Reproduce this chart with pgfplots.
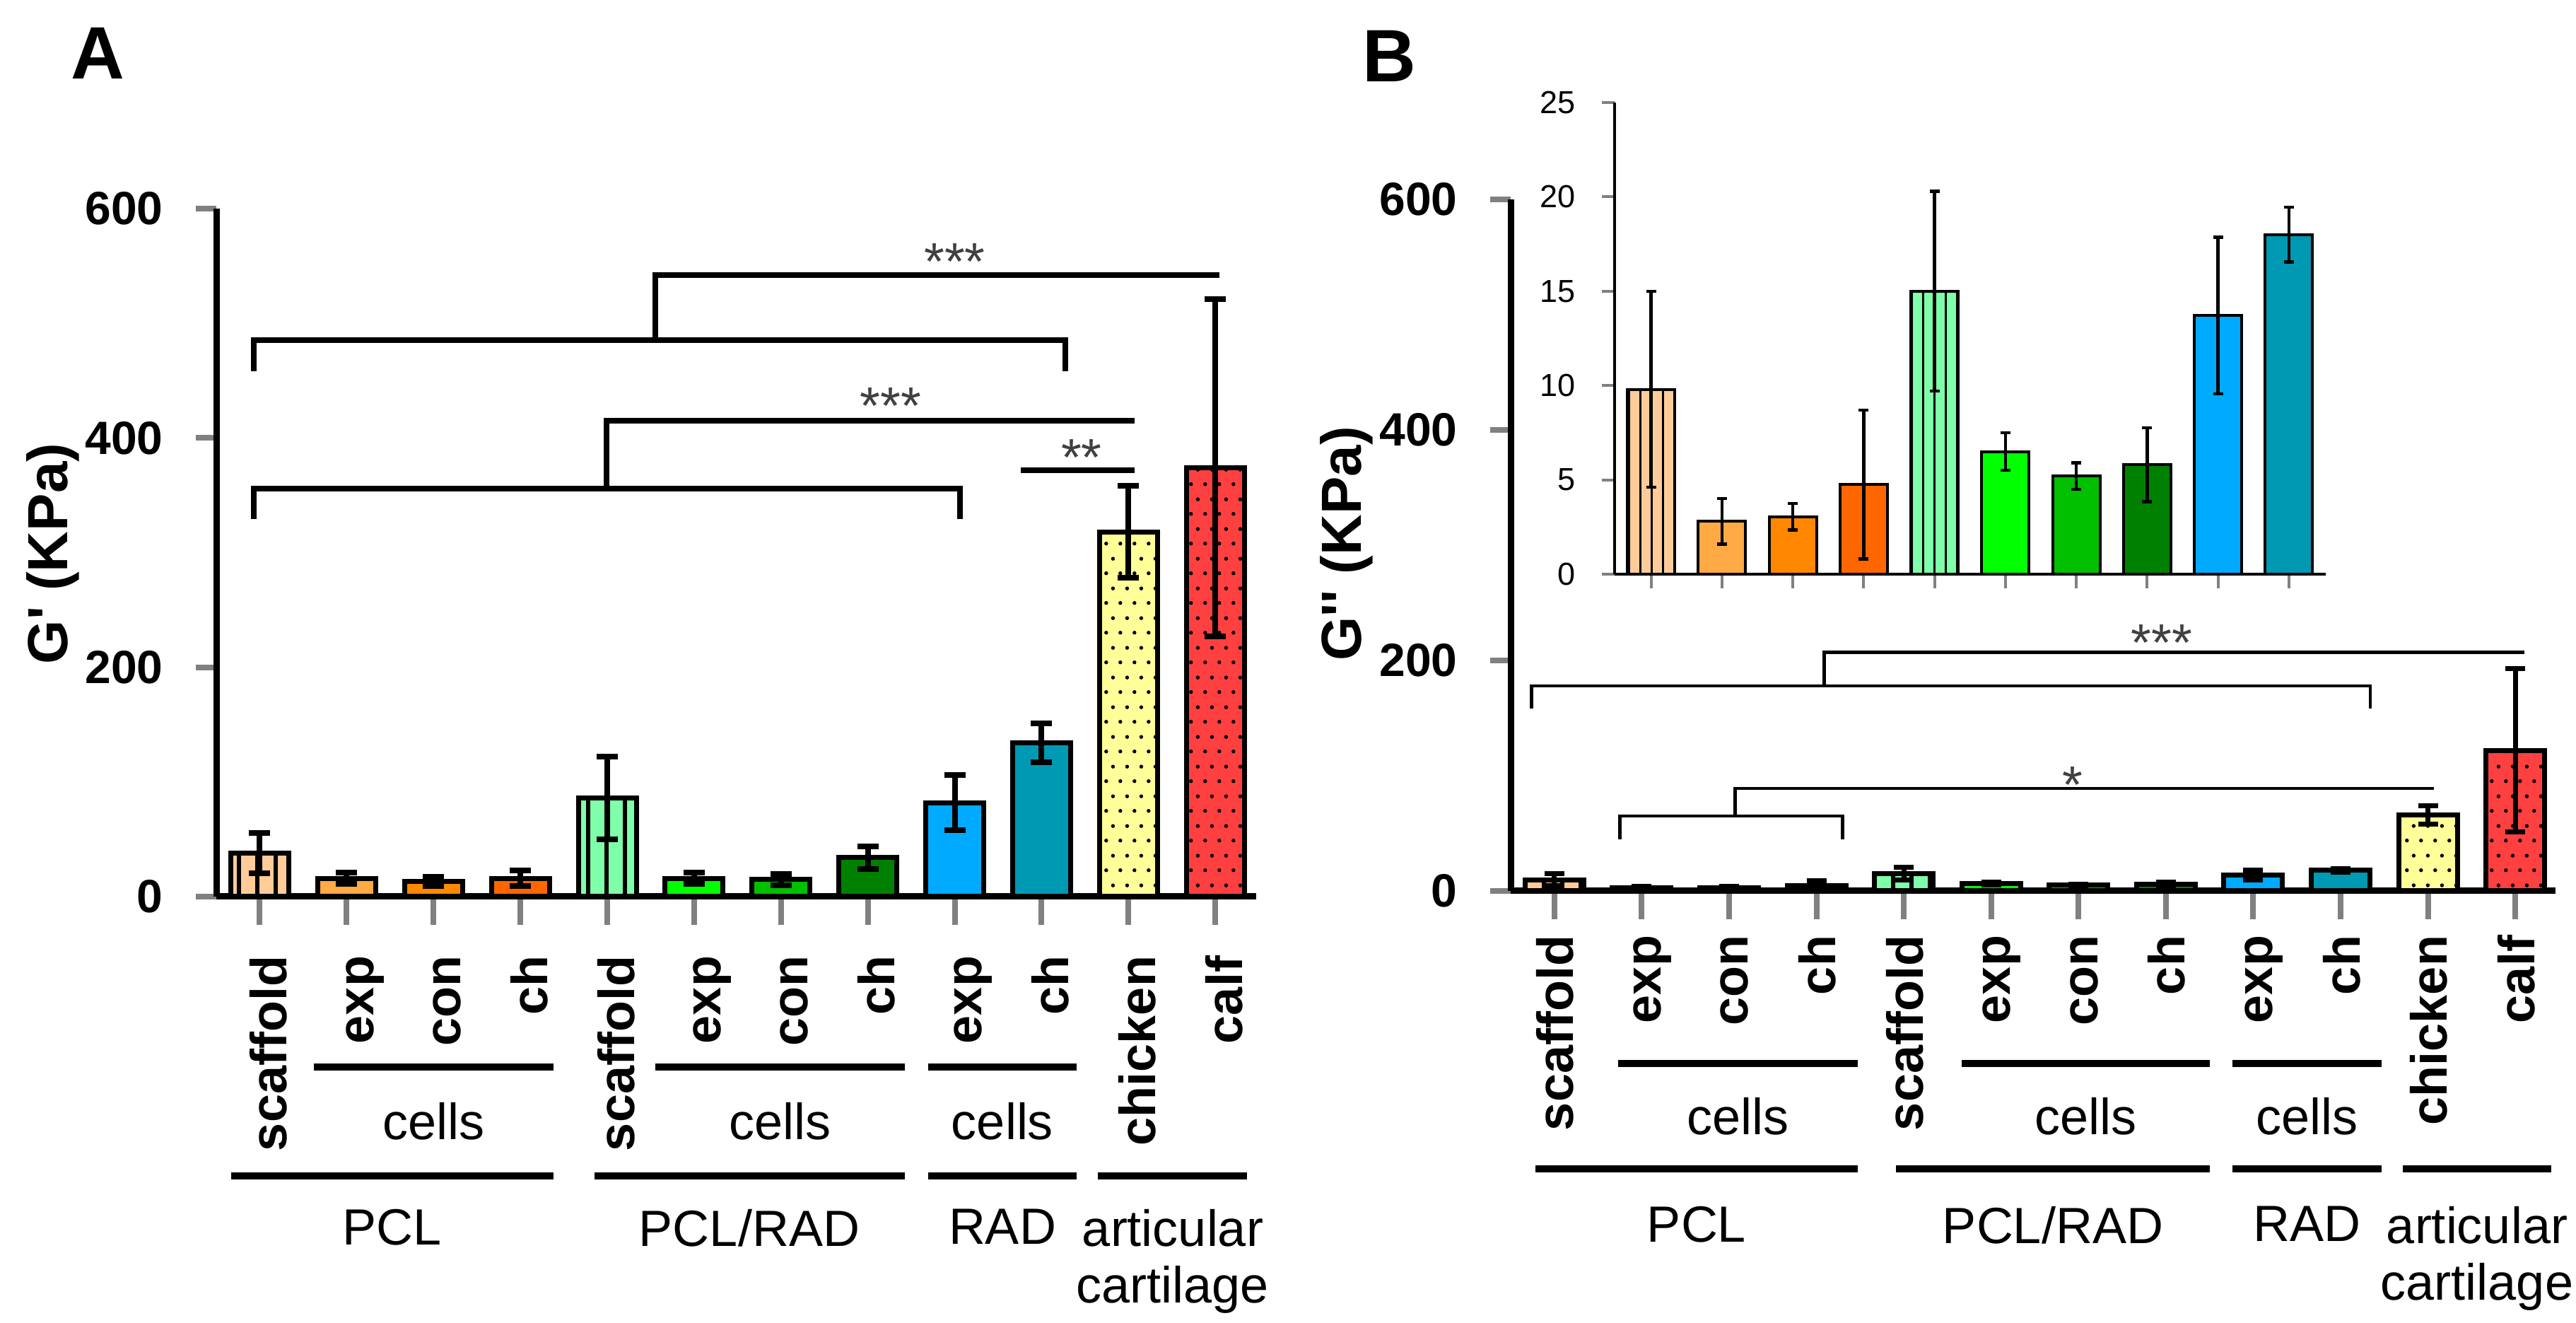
\documentclass[border=0pt]{standalone}
\usepackage{pgfplots}
\pgfplotsset{compat=1.18}
\usepackage{fontspec}
\setmainfont{Liberation Sans}
\newfontfamily\lsans{Liberation Sans}
\usetikzlibrary{patterns,patterns.meta}

\definecolor{cSa}{HTML}{FFCC99}
\definecolor{cEa}{HTML}{FFAA44}
\definecolor{cCa}{HTML}{FF8800}
\definecolor{cHa}{HTML}{FF6600}
\definecolor{cSb}{HTML}{80FFAA}
\definecolor{cEb}{HTML}{00FF00}
\definecolor{cCb}{HTML}{00C000}
\definecolor{cHb}{HTML}{008000}
\definecolor{cEc}{HTML}{00AAFF}
\definecolor{cHc}{HTML}{0099B3}
\definecolor{cCk}{HTML}{FFFF99}
\definecolor{cCf}{HTML}{FF4040}

\pgfdeclarepatternformonly{stagdots}{\pgfpoint{0pt}{0pt}}{\pgfpoint{2pt}{4.2pt}}{\pgfpoint{2pt}{4.2pt}}{%
  \pgfpathcircle{\pgfpoint{0.5pt}{1.05pt}}{0.28pt}%
  \pgfpathcircle{\pgfpoint{1.5pt}{3.15pt}}{0.28pt}%
  \pgfusepath{fill}}

\pgfplotsset{
  mainax/.style={scale only axis, anchor=south west, axis lines=left,
    axis line style={-, line width=0.9pt}, tick align=outside, major tick length=4pt,
    ytick style={line width=0.8pt, /pgfplots/major tick length=2.9pt},
    xtick style={line width=0.8pt},
    ymin=0, ymax=600, ytick={0,200,400,600}, xmin=-0.5,
    xtick={0,...,11},
    xticklabels={scaffold,exp,con,ch,scaffold,exp,con,ch,exp,ch,chicken,calf},
    yticklabel style={font=\bfseries\fontsize{6.6}{7}\selectfont},
    /pgf/number format/assume math mode=true, clip=false, ybar},
  barA/.style={ybar, bar width=8.2pt, bar shift=0pt, draw=black, line width=0.7pt,
    error bars/y dir=both, error bars/y explicit,
    error bars/error bar style={line width=0.8pt, black},
    error bars/error mark options={rotate=90, line width=0.8pt, mark size=1.5pt, black}},
  barB/.style={ybar, bar width=8.3pt, bar shift=0pt, draw=black, line width=0.7pt,
    error bars/y dir=both, error bars/y explicit,
    error bars/error bar style={line width=0.7pt, black},
    error bars/error mark options={rotate=90, line width=0.7pt, mark size=1.4pt, black}},
  barI/.style={ybar, bar width=6.7pt, bar shift=0pt, draw=black, line width=0.4pt,
    error bars/y dir=both, error bars/y explicit,
    error bars/error bar style={line width=0.45pt, black},
    error bars/error mark options={rotate=90, line width=0.45pt, mark size=0.7pt, black}},
  linesA/.style={postaction={pattern={Lines[angle=90,distance=2.6pt,line width=0.6pt]}, pattern color=black}},
  linesI/.style={postaction={pattern={Lines[angle=90,distance=1.6pt,line width=0.3pt]}, pattern color=black}},
  dotsA/.style={postaction={pattern=stagdots, pattern color=black}},
}

\begin{document}
\begin{tikzpicture}
\useasboundingbox (0,0) rectangle (364.4pt,187.1pt);

% ---------------- Panel A ----------------
\begin{axis}[mainax, at={(30.6pt,60.3pt)}, width=147.1pt, height=97.3pt, xmax=11.47,
  xticklabel style={xshift=3.8pt, rotate=90, anchor=base east, inner sep=0pt, font=\bfseries\fontsize{7.2}{8}\selectfont},
  xticklabel shift=4.2pt]
\addplot[barA, fill=cSa, linesA] coordinates {(0,38) +- (0,17.5)};
\addplot[barA, fill=cEa] coordinates {(1,16) +- (0,5)};
\addplot[barA, fill=cCa] coordinates {(2,13) +- (0,4)};
\addplot[barA, fill=cHa] coordinates {(3,16) +- (0,7)};
\addplot[barA, fill=cSb, linesA] coordinates {(4,86) +- (0,36)};
\addplot[barA, fill=cEb] coordinates {(5,16) +- (0,5)};
\addplot[barA, fill=cCb] coordinates {(6,15) +- (0,5)};
\addplot[barA, fill=cHb] coordinates {(7,34) +- (0,10)};
\addplot[barA, fill=cEc] coordinates {(8,82) +- (0,24)};
\addplot[barA, fill=cHc] coordinates {(9,134) +- (0,17)};
\addplot[barA, fill=cCk, dotsA] coordinates {(10,318) +- (0,40)};
\addplot[barA, fill=cCf, dotsA] coordinates {(11,374) +- (0,147)};
\draw[line width=0.8pt] (axis cs:4.55,485) -- (axis cs:4.55,542) -- (axis cs:11.05,542);
\draw[line width=0.8pt] (axis cs:-0.07,458) -- (axis cs:-0.07,485) -- (axis cs:9.27,485) -- (axis cs:9.27,458);
\draw[line width=0.8pt] (axis cs:3.99,356) -- (axis cs:3.99,415) -- (axis cs:10.07,415);
\draw[line width=0.8pt] (axis cs:-0.07,329) -- (axis cs:-0.07,356) -- (axis cs:8.06,356) -- (axis cs:8.06,329);
\draw[line width=0.8pt] (axis cs:8.76,372) -- (axis cs:10.07,372);
\node[font=\fontsize{7.4}{8}\selectfont, text=black!75] at (axis cs:8.0,554) {***};
\node[font=\fontsize{7.4}{8}\selectfont, text=black!75] at (axis cs:7.26,428) {***};
\node[font=\fontsize{7.4}{8}\selectfont, text=black!75] at (axis cs:9.46,383) {**};
\end{axis}

% ---------------- Panel B ----------------
\begin{axis}[mainax, at={(213.7pt,61.1pt)}, width=147.8pt, height=97.8pt, xmax=11.46,
  xticklabel style={xshift=2.7pt, rotate=90, anchor=base east, inner sep=0pt, font=\bfseries\fontsize{7.2}{8}\selectfont},
  xticklabel shift=2.1pt]
\addplot[barB, fill=cSa, linesA] coordinates {(0,9.8) +- (0,5.2)};
\addplot[barB, fill=cEa] coordinates {(1,2.8) +- (0,1.2)};
\addplot[barB, fill=cCa] coordinates {(2,3.05) +- (0,0.7)};
\addplot[barB, fill=cHa] coordinates {(3,4.75) +- (0,3.95)};
\addplot[barB, fill=cSb, linesA] coordinates {(4,15.0) +- (0,5.3)};
\addplot[barB, fill=cEb] coordinates {(5,6.5) +- (0,1.0)};
\addplot[barB, fill=cCb] coordinates {(6,5.2) +- (0,0.7)};
\addplot[barB, fill=cHb] coordinates {(7,5.8) +- (0,1.95)};
\addplot[barB, fill=cEc] coordinates {(8,13.7) +- (0,4.15)};
\addplot[barB, fill=cHc] coordinates {(9,18.0) +- (0,1.45)};
\addplot[barB, fill=cCk, dotsA] coordinates {(10,66) +- (0,8)};
\addplot[barB, fill=cCf, dotsA] coordinates {(11,122) +- (0,71)};
\draw[line width=0.45pt] (axis cs:3.09,178) -- (axis cs:3.09,207) -- (axis cs:11.1,207);
\draw[line width=0.45pt] (axis cs:-0.26,158) -- (axis cs:-0.26,178) -- (axis cs:9.34,178) -- (axis cs:9.34,158);
\draw[line width=0.45pt] (axis cs:2.07,65) -- (axis cs:2.07,89) -- (axis cs:10.07,89);
\draw[line width=0.45pt] (axis cs:0.75,45) -- (axis cs:0.75,65) -- (axis cs:3.3,65) -- (axis cs:3.3,45);
\node[font=\fontsize{7.4}{8}\selectfont, text=black!75] at (axis cs:6.95,215) {***};
\node[font=\fontsize{7.4}{8}\selectfont, text=black!75] at (axis cs:5.93,92) {*};
\end{axis}

% ---------------- Inset ----------------
\begin{axis}[scale only axis, anchor=south west, at={(228.35pt,105.9pt)}, width=100.65pt, height=66.7pt,
  axis lines=left, axis line style={-, line width=0.4pt}, tick align=outside,
  major tick length=2pt, ytick style={line width=0.4pt, /pgfplots/major tick length=1.8pt},
  xtick style={line width=0.4pt},
  xmin=-0.52, xmax=9.52, ymin=0, ymax=25, ytick={0,5,...,25}, xtick={0,...,9}, xticklabels={},
  yticklabel style={font=\fontsize{4.5}{5}\selectfont},
  /pgf/number format/assume math mode=true, clip=false, ybar]
\addplot[barI, fill=cSa, linesI] coordinates {(0,9.8) +- (0,5.2)};
\addplot[barI, fill=cEa] coordinates {(1,2.8) +- (0,1.2)};
\addplot[barI, fill=cCa] coordinates {(2,3.05) +- (0,0.7)};
\addplot[barI, fill=cHa] coordinates {(3,4.75) +- (0,3.95)};
\addplot[barI, fill=cSb, linesI] coordinates {(4,15.0) +- (0,5.3)};
\addplot[barI, fill=cEb] coordinates {(5,6.5) +- (0,1.0)};
\addplot[barI, fill=cCb] coordinates {(6,5.2) +- (0,0.7)};
\addplot[barI, fill=cHb] coordinates {(7,5.8) +- (0,1.95)};
\addplot[barI, fill=cEc] coordinates {(8,13.7) +- (0,4.15)};
\addplot[barI, fill=cHc] coordinates {(9,18.0) +- (0,1.45)};
\end{axis}

% ---------------- Labels ----------------
\node[font=\lsans\bfseries\fontsize{10.5}{12}\selectfont] at (13.8pt,179.6pt) {A};
\node[font=\lsans\bfseries\fontsize{10.5}{12}\selectfont] at (196.5pt,179.2pt) {B};
\node[rotate=90, font=\lsans\bfseries\fontsize{8}{9}\selectfont] at (7.5pt,108.8pt) {G' (KPa)};
\node[rotate=90, font=\lsans\bfseries\fontsize{8}{9}\selectfont] at (190.5pt,110.2pt) {G'' (KPa)};

% group lines A
\begin{scope}[line width=1pt]
\draw (44.4pt,36.2pt) -- (78.3pt,36.2pt);
\draw (92.7pt,36.2pt) -- (128.0pt,36.2pt);
\draw (131.3pt,36.2pt) -- (152.3pt,36.2pt);
\draw (32.7pt,20.8pt) -- (78.3pt,20.8pt);
\draw (84.1pt,20.8pt) -- (128.0pt,20.8pt);
\draw (131.3pt,20.8pt) -- (152.3pt,20.8pt);
\draw (155.3pt,20.8pt) -- (176.4pt,20.8pt);
% group lines B
\draw (228.9pt,36.7pt) -- (262.8pt,36.7pt);
\draw (277.5pt,36.7pt) -- (312.6pt,36.7pt);
\draw (315.8pt,36.7pt) -- (336.9pt,36.7pt);
\draw (217.2pt,21.8pt) -- (262.8pt,21.8pt);
\draw (268.2pt,21.8pt) -- (312.6pt,21.8pt);
\draw (315.8pt,21.8pt) -- (336.9pt,21.8pt);
\draw (339.9pt,21.8pt) -- (360.9pt,21.8pt);
\end{scope}

\begin{scope}[every node/.style={font=\fontsize{7.2}{8}\selectfont}]
\node at (61.35pt,28.5pt) {cells};
\node at (110.35pt,28.5pt) {cells};
\node at (141.8pt,28.5pt) {cells};
\node at (245.85pt,29.2pt) {cells};
\node at (295.05pt,29.2pt) {cells};
\node at (326.35pt,29.2pt) {cells};
\end{scope}
\begin{scope}[every node/.style={font=\fontsize{7.2}{8}\selectfont, anchor=north, inner sep=0pt, align=center}]
\node at (55.5pt,16.3pt) {PCL};
\node at (106.0pt,16.3pt) {PCL/RAD};
\node at (141.8pt,16.3pt) {RAD};
\node at (165.9pt,16.3pt) {articular\\cartilage};
\node at (240.0pt,16.7pt) {PCL};
\node at (290.4pt,16.7pt) {PCL/RAD};
\node at (326.3pt,16.7pt) {RAD};
\node at (350.4pt,16.7pt) {articular\\cartilage};
\end{scope}
\end{tikzpicture}
\end{document}
